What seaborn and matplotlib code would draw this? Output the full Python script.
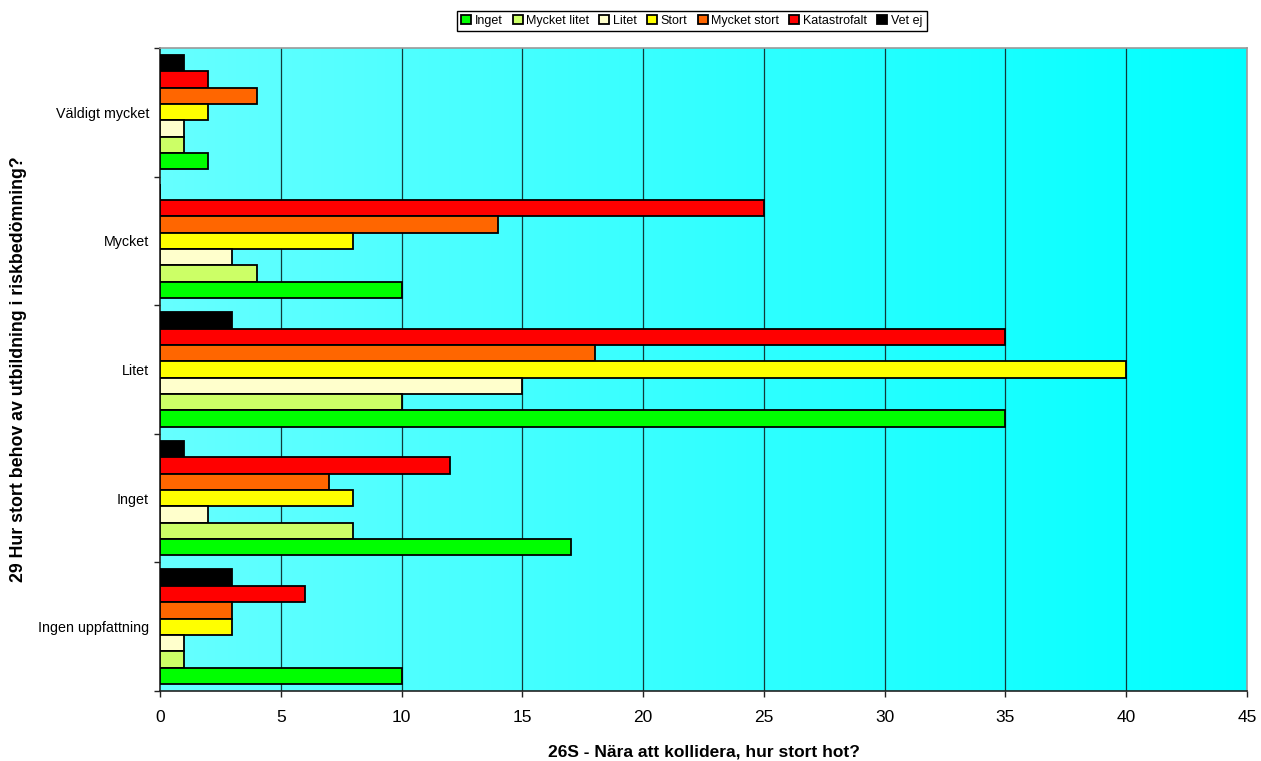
import matplotlib
matplotlib.use("Agg")
import matplotlib.pyplot as plt
import seaborn as sns
import numpy as np
import pandas as pd

categories = ["Väldigt mycket", "Mycket", "Litet", "Inget", "Ingen uppfattning"]
series = ["Inget", "Mycket litet", "Litet", "Stort", "Mycket stort", "Katastrofalt", "Vet ej"]
colors = ["#00FF00", "#CCFF66", "#FFFFCC", "#FFFF00", "#FF6600", "#FF0000", "#000000"]

# values per series, in the same order as categories
inget = [2, 10, 35, 17, 10]
mycket_litet = [1, 4, 10, 8, 1]
litet = [1, 3, 15, 2, 1]
stort = [2, 8, 40, 8, 3]
mycket_stort = [4, 14, 18, 7, 3]
katastrofalt = [2, 25, 35, 12, 6]
vet_ej = [1, 0, 3, 1, 3]

values = [inget, mycket_litet, litet, stort, mycket_stort, katastrofalt, vet_ej]
rows = []
for s, vals in zip(series, values):
    for c, v in zip(categories, vals):
        rows.append({"kategori": c, "serie": s, "antal": v})
df = pd.DataFrame(rows)

sns.set_style("white")
plt.rcParams["font.family"] = ["Liberation Sans", "DejaVu Sans"]
plt.rcParams["text.color"] = "black"
plt.rcParams["axes.labelcolor"] = "black"
plt.rcParams["xtick.color"] = "black"
plt.rcParams["ytick.color"] = "black"

fig = plt.figure(figsize=(12.61, 7.61), dpi=100)
ax = fig.add_axes([0.1269, 0.092, 0.862, 0.845])

# gradient background (light cyan -> cyan)
grad = np.linspace(0, 1, 256).reshape(1, -1)
left = np.array([0x66, 0xFF, 0xFF]) / 255
right = np.array([0x00, 0xFF, 0xFF]) / 255
img = left[None, None, :] * (1 - grad[..., None]) + right[None, None, :] * grad[..., None]
ax.imshow(img, extent=[0, 1, 0, 1], transform=ax.transAxes, aspect="auto", zorder=0)

# reversed hue order so that "Inget" ends up at the bottom of each group
rev_series = series[::-1]
rev_colors = colors[::-1]
sns.barplot(data=df, y="kategori", x="antal", hue="serie", order=categories,
            hue_order=rev_series, palette=rev_colors, orient="h", width=0.89,
            edgecolor="black", linewidth=1.3, ax=ax, zorder=3, saturation=1)

ax.set_xlim(0, 45)
ax.set_ylim(len(categories) - 0.5, -0.5)
ax.set_xticks(range(0, 50, 5))
ax.grid(False)
for xv in range(5, 45, 5):
    ax.axvline(xv, color="#103a3a", lw=0.9, zorder=1)

ax.set_yticks(range(len(categories)))
ax.set_yticklabels(categories)
ax.set_yticks(np.arange(-0.5, len(categories), 1), minor=True)
ax.tick_params(axis="y", which="major", left=False, length=0, pad=8, labelsize=10.3)
ax.tick_params(axis="y", which="minor", left=True, length=4, width=1, color="#222222",
               direction="out")
ax.tick_params(axis="x", bottom=True, length=4, width=1, color="#222222", direction="out",
               labelsize=12.5, pad=10)

for side in ["left", "bottom"]:
    ax.spines[side].set_color("#222222")
    ax.spines[side].set_linewidth(1.2)
for side in ["top", "right"]:
    ax.spines[side].set_color("#999999")
    ax.spines[side].set_linewidth(1.2)

ax.set_xlabel("26S - Nära att kollidera, hur stort hot?", fontsize=12.5, fontweight="bold")
ax.xaxis.set_label_coords(0.5, -0.083)
ax.set_ylabel("29 Hur stort behov av utbildning i riskbedömning?", fontsize=12.8,
              fontweight="bold")
ax.yaxis.set_label_coords(-0.1224, 0.5)

handles, labels = ax.get_legend_handles_labels()
ax.legend(handles[::-1], labels[::-1], loc="center", bbox_to_anchor=(0.489, 1.0 + 27 / 643),
          ncol=7, fontsize=9, frameon=True, fancybox=False, edgecolor="black",
          handlelength=0.8, handleheight=0.8, handletextpad=0.3, columnspacing=0.8,
          borderpad=0.35, framealpha=1)

fig.savefig("out.png", dpi=100)
